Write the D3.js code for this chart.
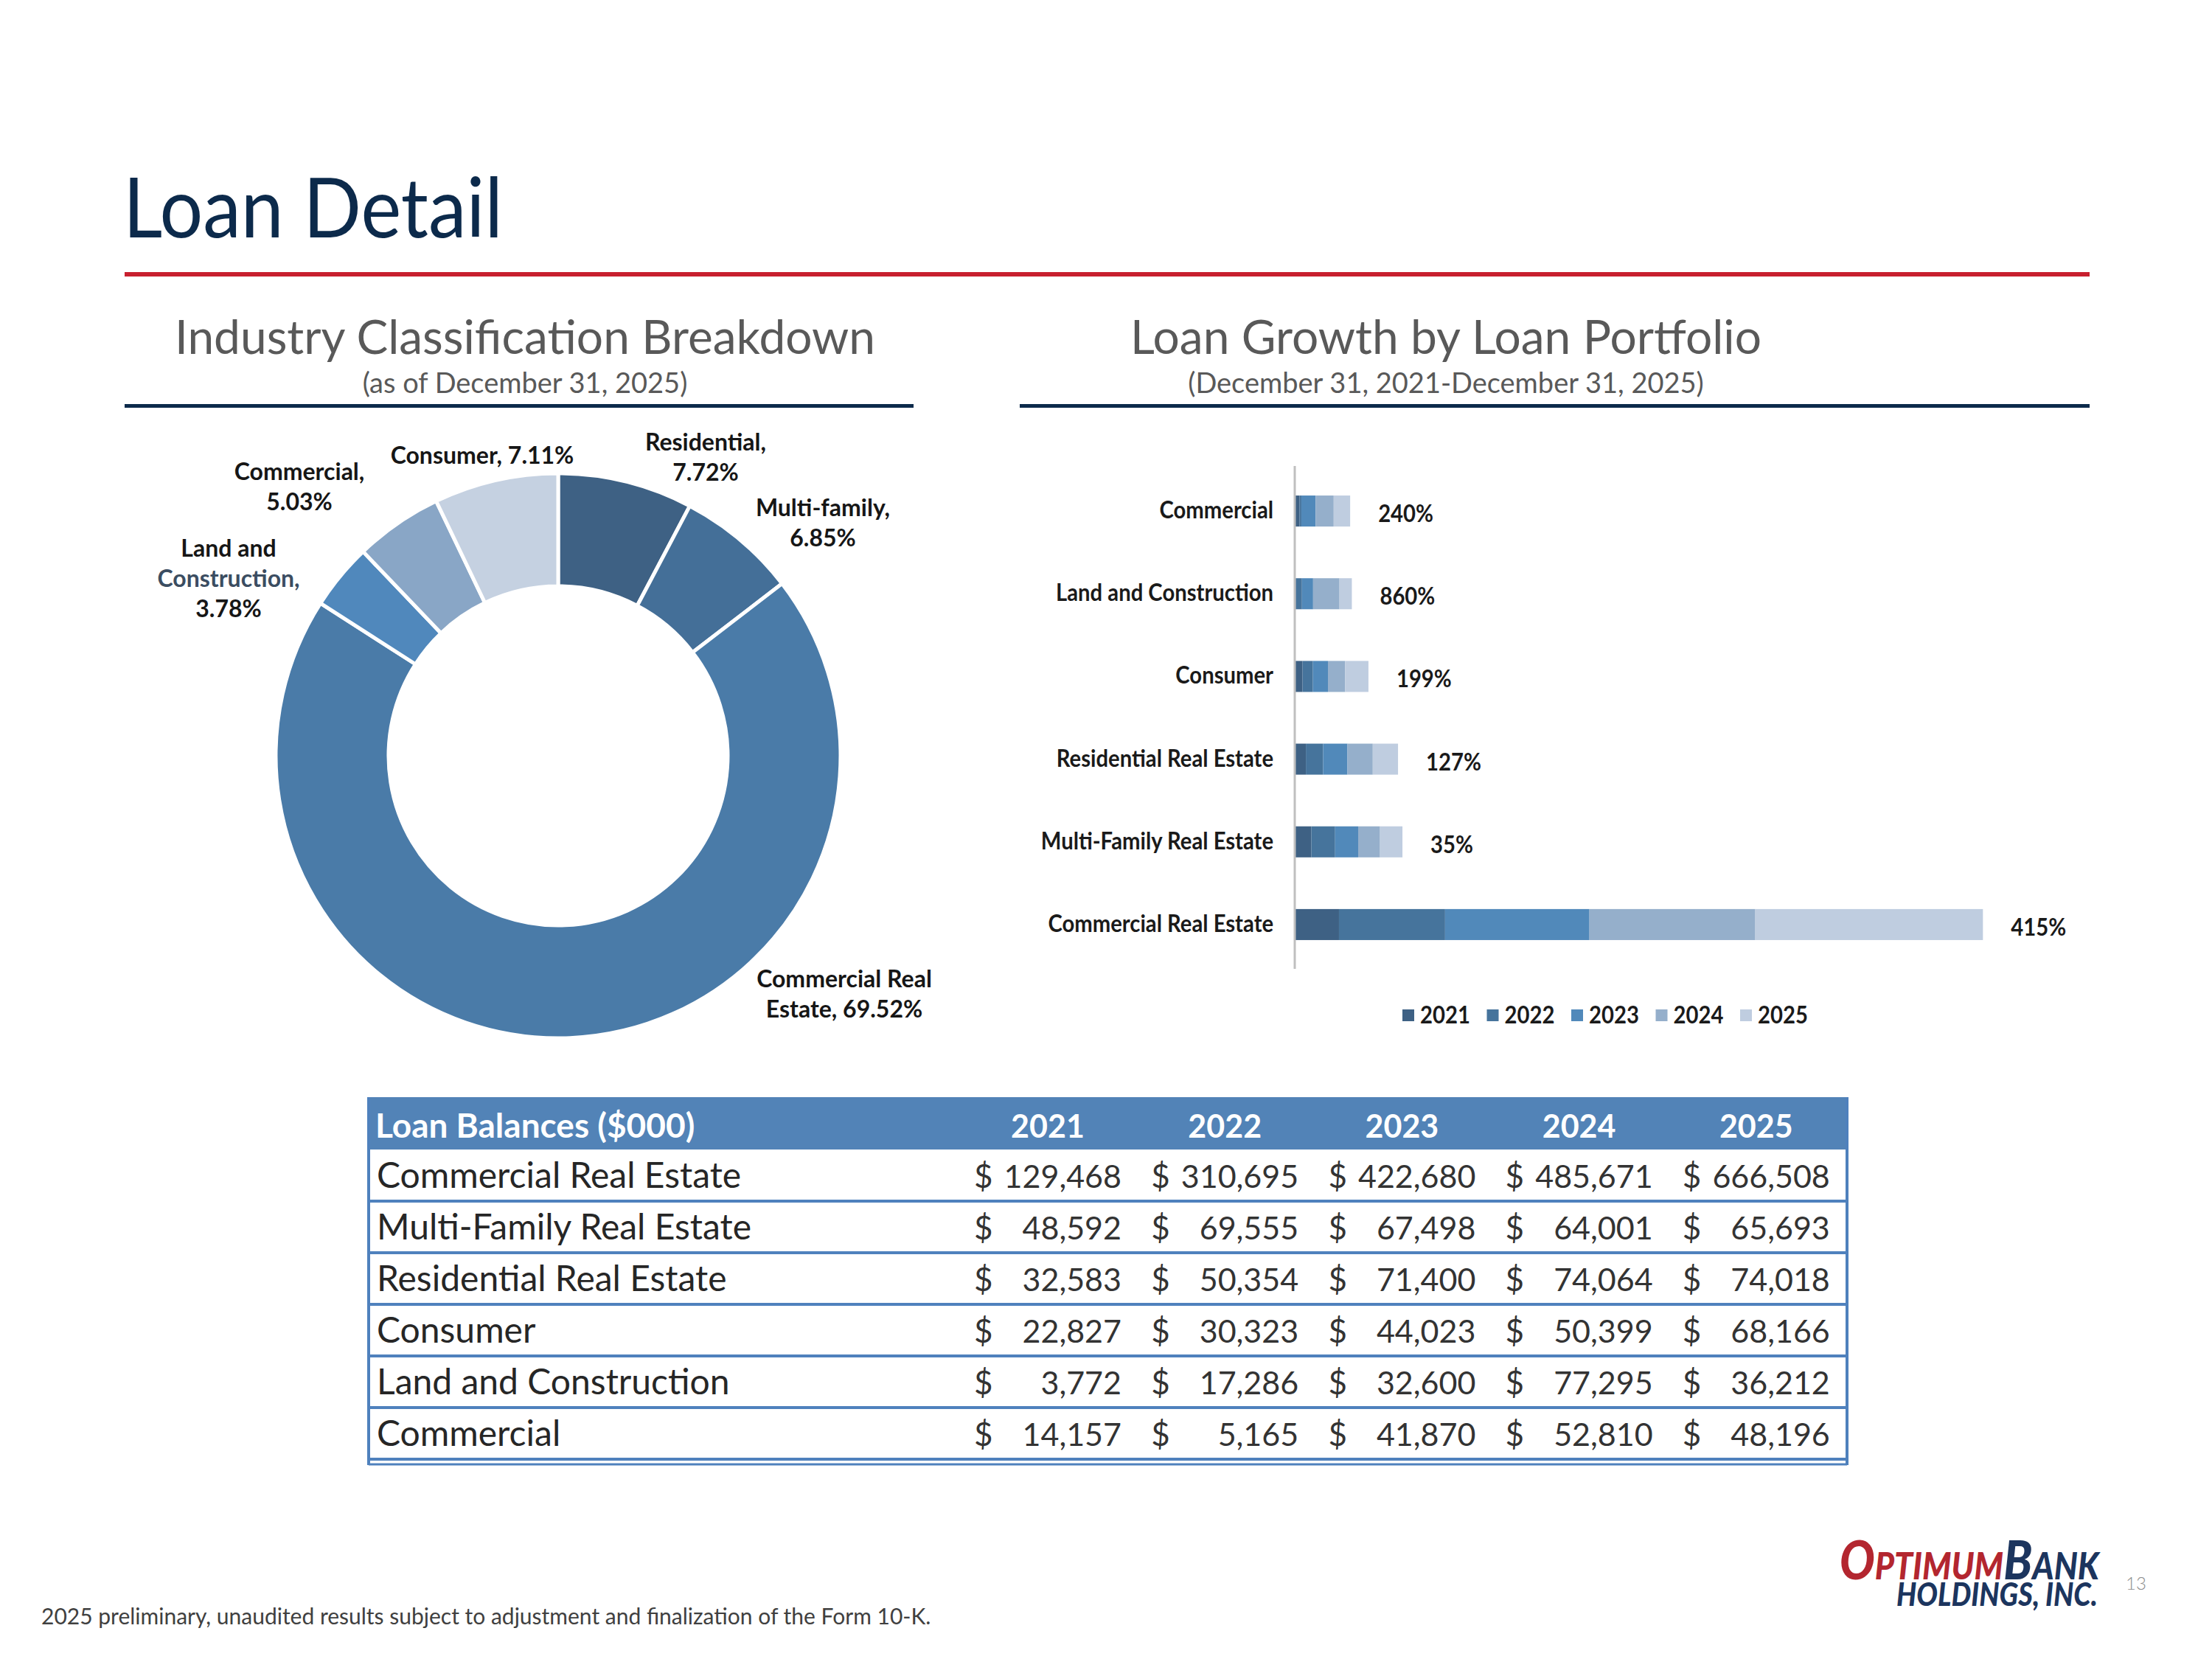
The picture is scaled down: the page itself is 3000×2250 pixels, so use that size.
<!DOCTYPE html>
<html>
<head>
<meta charset="utf-8">
<script src="https://cdn.jsdelivr.net/npm/d3@7"></script>
<style>
  body { margin: 0; background: #fff; }
  svg { display: block; }
</style>
</head>
<body>
<div id="slide"></div>
<script>
// Loan balances ($000) by portfolio, as shown in the table
const categories = ["Commercial Real Estate", "Multi-Family Real Estate", "Residential Real Estate", "Consumer", "Land and Construction", "Commercial"];
const years = ["2021", "2022", "2023", "2024", "2025"];
const bal2021 = [129468, 48592, 32583, 22827, 3772, 14157];
const bal2022 = [310695, 69555, 50354, 30323, 17286, 5165];
const bal2023 = [422680, 67498, 71400, 44023, 32600, 41870];
const bal2024 = [485671, 64001, 74064, 50399, 77295, 52810];
const bal2025 = [666508, 65693, 74018, 68166, 36212, 48196];
const growthLabels = ["415%", "35%", "127%", "199%", "860%", "240%"];

// Industry classification mix (donut), clockwise from 12 o'clock
const mixNames = ["Residential", "Multi-family", "Commercial Real Estate", "Land and Construction", "Commercial", "Consumer"];
const mixShares = [7.72, 6.85, 69.52, 3.78, 5.03, 7.11];

document.addEventListener('DOMContentLoaded', function () {
    const W = 3000, H = 2250;
    const svg = d3.select('#slide').append('svg')
        .attr('width', W).attr('height', H)
        .attr('viewBox', `0 0 ${W} ${H}`)
        .style('font-family', 'Lato, "Open Sans", sans-serif');

    const navy = '#0c2a4b', grey = '#595959';

    // ---- header ----
    svg.append('text').attr('x', 167).attr('y', 322)
        .attr('font-size', 112).attr('font-weight', 400).attr('fill', navy)
        .attr('textLength', 515).attr('lengthAdjust', 'spacingAndGlyphs')
        .text('Loan Detail');
    svg.append('rect').attr('x', 169).attr('y', 369).attr('width', 2665).attr('height', 6).attr('fill', '#c8202f');

    function sectionHead(cx, x0, x1, title, sub) {
        svg.append('text').attr('x', cx).attr('y', 480).attr('text-anchor', 'middle')
            .attr('font-size', 64).attr('fill', grey).text(title);
        svg.append('text').attr('x', cx).attr('y', 533).attr('text-anchor', 'middle')
            .attr('font-size', 38).attr('fill', grey).text(sub);
        svg.append('rect').attr('x', x0).attr('y', 548).attr('width', x1 - x0).attr('height', 5).attr('fill', navy);
    }
    sectionHead(712, 169, 1239, 'Industry Classification Breakdown', '(as of December 31, 2025)');
    sectionHead(1961, 1383, 2834, 'Loan Growth by Loan Portfolio', '(December 31, 2021-December 31, 2025)');

    // ---- donut ----
    const pieColors = ['#3e6184', '#446f98', '#4a7ba8', '#5088bc', '#89a6c6', '#c5d1e1'];
    const cx = 757, cy = 1025, rOut = 383, rIn = 230;
    const mix = mixNames.map((n, i) => ({ name: n, share: mixShares[i] }));
    const pie = d3.pie().sort(null).value(d => d.share);
    const arc = d3.arc().innerRadius(rIn).outerRadius(rOut);
    const gPie = svg.append('g').attr('transform', `translate(${cx},${cy})`);
    gPie.selectAll('path').data(pie(mix)).join('path')
        .attr('d', arc)
        .attr('fill', (d, i) => pieColors[i])
        .attr('stroke', '#fff').attr('stroke-width', 5);

    // hand-placed label layout, as on the slide
    const pct = d => d.share.toFixed(2) + '%';
    const labelLayout = {
        'Residential': { dx: 200, dy: -414, lines: d => [d.name + ',', pct(d)] },
        'Multi-family': { dx: 359, dy: -325, lines: d => [d.name + ',', pct(d)] },
        'Commercial Real Estate': { dx: 388, dy: 314, lines: d => ['Commercial Real', 'Estate, ' + pct(d)] },
        'Land and Construction': { dx: -447, dy: -270, lines: d => ['Land and', 'Construction,', pct(d)] },
        'Commercial': { dx: -351, dy: -374, lines: d => [d.name + ',', pct(d)] },
        'Consumer': { dx: -103, dy: -396, lines: d => [d.name + ', ' + pct(d)] }
    };
    mix.forEach(d => {
        const L = labelLayout[d.name];
        const t = gPie.append('text').attr('text-anchor', 'middle')
            .attr('font-size', 32).attr('font-weight', 700).attr('fill', '#161616');
        L.lines(d).forEach((line, j) => {
            t.append('tspan').attr('x', L.dx).attr('y', L.dy + j * 41)
                .attr('fill', line === 'Construction,' ? '#3b4d61' : null)
                .text(line);
        });
    });

    // ---- stacked bar chart ----
    const rows = categories.map((c, i) => ({
        cat: c, '2021': bal2021[i], '2022': bal2022[i], '2023': bal2023[i], '2024': bal2024[i], '2025': bal2025[i], growth: growthLabels[i]
    }));
    const barColors = ['#3e6184', '#46749c', '#5189ba', '#95afcb', '#bfcde0'];
    const x = d3.scaleLinear().domain([0, 2200000]).range([1756, 2775]);
    const y = d3.scaleBand().domain(categories.slice().reverse()).range([637, 1310]).paddingInner(0.625).paddingOuter(0.3125);
    const bw = y.bandwidth();
    const stack = d3.stack().keys(years)(rows);
    // condensed bold labels, like the slide's chart font
    const squeeze = 'scale(0.9,1)';
    const lblSize = 32.5;

    const gBar = svg.append('g');
    gBar.selectAll('g.series').data(stack).join('g')
        .attr('class', 'series')
        .attr('fill', (s, i) => barColors[i])
        .selectAll('rect').data(s => s).join('rect')
        .attr('x', d => x(d[0]))
        .attr('width', d => x(d[1]) - x(d[0]))
        .attr('y', d => y(d.data.cat))
        .attr('height', bw);

    gBar.append('line').attr('x1', x(0)).attr('x2', x(0)).attr('y1', 632).attr('y2', 1314)
        .attr('stroke', '#bfbfbf').attr('stroke-width', 3);
    gBar.selectAll('text.cat').data(y.domain()).join('text')
        .attr('class', 'cat')
        .attr('transform', d => `translate(${x(0) - 29},${y(d) + bw / 2 + 10}) ${squeeze}`)
        .attr('text-anchor', 'end')
        .attr('font-size', lblSize).attr('font-weight', 700).attr('fill', '#1a1a1a')
        .text(d => d);

    const last = stack[stack.length - 1];
    gBar.selectAll('text.growth').data(last).join('text')
        .attr('class', 'growth')
        .attr('transform', d => `translate(${x(d[1]) + 38},${y(d.data.cat) + bw / 2 + 15}) ${squeeze}`)
        .attr('font-size', lblSize).attr('font-weight', 700).attr('fill', '#1a1a1a')
        .text(d => d.data.growth);

    const legend = gBar.append('g').selectAll('g').data(years).join('g')
        .attr('transform', (d, i) => `translate(${1902 + i * 114.5},1377)`);
    legend.append('rect').attr('x', 0).attr('y', -8).attr('width', 16).attr('height', 16)
        .attr('fill', (d, i) => barColors[i]);
    legend.append('text').attr('transform', `translate(24,11) ${squeeze}`)
        .attr('font-size', lblSize).attr('font-weight', 700).attr('fill', '#1a1a1a')
        .text(d => d);

    // ---- table ----
    const tLeft = 500, tRight = 2505, tTop = 1488, headH = 71, rowH = 70;
    const blue = '#5283b7', line = '#4f81bd';
    const col = d3.scaleBand().domain(years).range([1299, 2500]);
    const fmt = d3.format(',');
    const gT = svg.append('g');
    gT.append('rect').attr('x', tLeft).attr('y', tTop).attr('width', tRight - tLeft).attr('height', headH).attr('fill', blue);
    gT.append('text').attr('x', 509).attr('y', tTop + 55).attr('font-size', 46).attr('font-weight', 700)
        .attr('fill', '#fff').text('Loan Balances ($000)');
    gT.selectAll('text.yr').data(years).join('text').attr('class', 'yr')
        .attr('x', d => col(d) + 122).attr('y', tTop + 55).attr('text-anchor', 'middle')
        .attr('font-size', 43).attr('font-weight', 700).attr('fill', '#fff').text(d => d);

    const ry = d3.scaleBand().domain(categories).range([tTop + headH, tTop + headH + rowH * categories.length]);
    const tr = gT.selectAll('g.row').data(rows).join('g').attr('class', 'row')
        .attr('transform', d => `translate(0,${ry(d.cat)})`);
    tr.append('line').attr('x1', tLeft).attr('x2', tRight).attr('y1', rowH).attr('y2', rowH)
        .attr('stroke', line).attr('stroke-width', 4);
    tr.append('text').attr('x', 511).attr('y', 52).attr('font-size', 48).attr('fill', '#262626').text(d => d.cat);
    years.forEach(yr => {
        tr.append('text').attr('x', col(yr) + 22).attr('y', 52).attr('font-size', 44).attr('fill', '#333').text('$');
        tr.append('text').attr('x', col(yr) + 222).attr('y', 52).attr('text-anchor', 'end')
            .attr('font-size', 43).attr('fill', '#333').text(d => fmt(d[yr]));
    });
    const tBottom = tTop + headH + rowH * categories.length;
    gT.append('line').attr('x1', tLeft).attr('x2', tRight).attr('y1', tBottom + 7).attr('y2', tBottom + 7)
        .attr('stroke', line).attr('stroke-width', 3);
    [tLeft, tRight].forEach(xx => gT.append('line').attr('x1', xx).attr('x2', xx)
        .attr('y1', tTop).attr('y2', tBottom + 8).attr('stroke', line).attr('stroke-width', 4));

    // ---- footer ----
    svg.append('text').attr('x', 56).attr('y', 2203).attr('font-size', 30).attr('fill', '#404040')
        .text('2025 preliminary, unaudited results subject to adjustment and finalization of the Form 10-K.');

    // logo: one text element, two lines, squeezed horizontally to the slide's width
    const logo = svg.append('text')
        .attr('font-style', 'italic').attr('font-weight', 900);
    const l1 = logo.append('tspan').attr('x', 0).attr('y', 2142);
    l1.append('tspan').attr('font-size', 72).attr('fill', '#b3262f').text('O');
    l1.append('tspan').attr('font-size', 51).attr('fill', '#b3262f').text('PTIMUM');
    l1.append('tspan').attr('font-size', 72).attr('fill', '#1c355e').text('B');
    l1.append('tspan').attr('font-size', 51).attr('fill', '#1c355e').text('ANK');
    const l2 = logo.append('tspan').attr('y', 2178).attr('font-size', 42).attr('fill', '#1c355e')
        .text('HOLDINGS, INC.');
    const s = 352 / l1.node().getComputedTextLength();
    l2.attr('x', (2572 - 2495) / s)
        .attr('font-size', 42 * (273 / s) / l2.node().getComputedTextLength());
    logo.attr('transform', `translate(2495,0) scale(${s},1)`);

    svg.append('text').attr('x', 2883).attr('y', 2156).attr('font-size', 24).attr('font-weight', 300)
        .attr('fill', '#8c8c8c').text('13');
});
</script>
</body>
</html>
